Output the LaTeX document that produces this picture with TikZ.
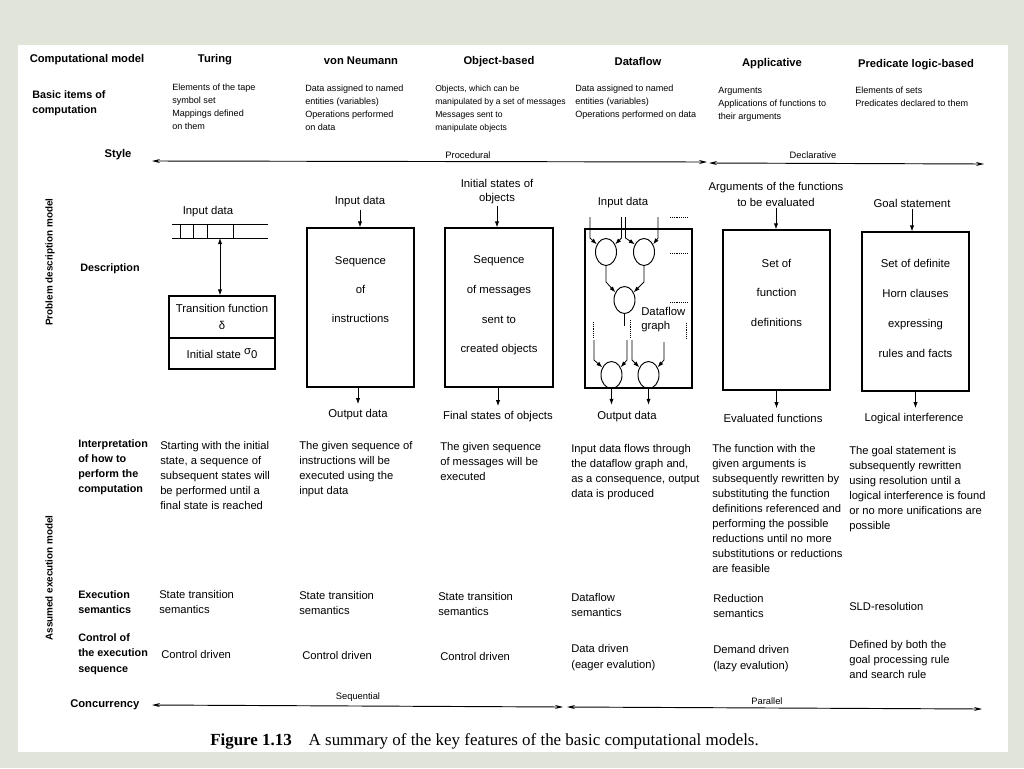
\documentclass[tikz,border=0pt]{standalone}
\usepackage{fontspec}
\setmainfont{Liberation Sans}
\newfontfamily\capfont{Liberation Serif}
\usetikzlibrary{shapes.geometric,arrows.meta,fit}
\newcommand\myfs[2]{\fontsize{#1}{#2}\selectfont}
\definecolor{bgc}{HTML}{E1E5D9}
\begin{document}
\begin{tikzpicture}[x=0.75pt,y=-0.75pt,
  hdr/.style={font=\bfseries\myfs{8.4}{10}, inner sep=0, anchor=base},
  lab/.style={font=\bfseries\myfs{8.1}{11.3}, anchor=north west, align=left, inner sep=0},
  side/.style={font=\bfseries\myfs{7.4}{9}, inner sep=0, rotate=90},
  basic/.style={font=\myfs{6.8}{9.75}, anchor=north west, align=left, inner sep=0},
  body/.style={font=\myfs{8.4}{11.3}, anchor=north west, align=left, inner sep=0},
  small/.style={font=\myfs{7}{8}, inner sep=0},
  dtxt/.style={font=\myfs{8.5}{10}, inner sep=0, align=center},
  box/.style={draw, line width=0.9pt, inner sep=0},
  arr/.style={-{Latex[length=4.5pt,width=3.2pt]}, line width=0.6pt},
  darr/.style={{Latex[length=4.5pt,width=3.2pt]}-{Latex[length=4.5pt,width=3.2pt]}, line width=0.6pt},
  sarr/.style={{Stealth[length=6pt,width=3pt]}-{Stealth[length=6pt,width=3pt]}, line width=0.7pt},
  blob/.style={draw, ellipse, line width=0.7pt, minimum width=15.75pt, minimum height=20.25pt, inner sep=0},
  dots/.style={dash pattern=on 0.7pt off 0.7pt, line width=0.5pt},
  ln/.style={line width=0.6pt}
]
\useasboundingbox (0,0) rectangle (1024,768);
\fill[bgc] (0,0) rectangle (1024,768);
\fill[white] (18,45) rectangle (1008,752);

% header row
\node[hdr] (hcm) at (87,62) {Computational model};
\node[hdr] (htu) at (215,62) {Turing};
\node[hdr] (hvn) at (361,64) {von Neumann};
\node[hdr] (hob) at (499,64) {Object-based};
\node[hdr] (hdf) at (638,65) {Dataflow};
\node[hdr] (hap) at (772,66) {Applicative};
\node[hdr] (hpl) at (916,67) {Predicate logic-based};

% basic items
\node[lab] (lbasic) at (32,90) {Basic items of\\computation};
\node[basic] (btu) at (172,83.5) {Elements of the tape\\symbol set\\Mappings defined\\on them};
\node[basic] (bvn) at (305,84.5) {Data assigned to named\\entities (variables)\\Operations performed\\on data};
\node[basic, font=\myfs{6.45}{9.75}] (bob) at (435,84.5) {Objects, which can be\\manipulated by a set of messages\\Messages sent to\\manipulate objects};
\node[basic] (bdf) at (575,85) {Data assigned to named\\entities (variables)\\Operations performed on data};
\node[basic] (bap) at (718,86.5) {Arguments\\Applications of functions to\\their arguments};
\node[basic] (bpl) at (855,86.5) {Elements of sets\\Predicates declared to them};

% style row
\node[hdr] (lstyle) at (118,157) {Style};
\coordinate (sL) at (152,161);
\coordinate (sM1) at (707,162);
\coordinate (sM2) at (709,163);
\coordinate (sR) at (984,164);
\draw[sarr] (sL) -- (sM1);
\draw[sarr] (sM2) -- (sR);
\node[small] (proc) at (468,155) {Procedural};
\node[small] (decl) at (813,155) {Declarative};

% side labels
\node[side] (pdm) at (50,262) {Problem description model};
\node[side] (aem) at (49,578) {Assumed execution model};

% description label
\node[lab, anchor=west] (ldesc) at (80,269) {Description};

% Turing
\node[dtxt] (tuin) at (208,212) {Input data};
\draw[ln] (172,224) -- (268,224);
\draw[ln] (172,238) -- (268,238);
\foreach \xx in {180,193,207,233} \draw[ln] (\xx,224) -- (\xx,238);
\coordinate (tape) at (220,238);
\node[box, fit={(169,296) (275,338)}] (tbox1) {};
\node[box, fit={(169,338) (275,369)}] (tbox2) {};
\node[dtxt, font=\myfs{8.5}{12.75}] (ttf) at (tbox1.center) {Transition function\\δ};
\node[dtxt] (tis) at (tbox2.center) {Initial state \raisebox{0.55ex}{σ}0};
\draw[darr] (tape) -- (tape |- tbox1.north);

% von Neumann
\node[dtxt] (vnin) at (360,202) {Input data};
\node[box, fit={(307,228) (414,387)}] (vnbox) {};
\node[dtxt, font=\myfs{8.5}{22}] (vntx) at (360.5,289.5) {Sequence\\of\\instructions};
\node[dtxt] (vnout) at (358,415) {Output data};
\draw[arr] (vnin.south) ++(0,2) -- (vnin.south |- vnbox.north);
\draw[arr, shorten >=4pt] (vnbox.south -| vnout.north) -- (vnout.north);

% Object-based
\node[dtxt, font=\myfs{8.5}{9.9}] (obin) at (497,191.5) {Initial states of\\objects};
\node[box, fit={(445,228) (553,387)}] (obbox) {};
\node[dtxt, font=\myfs{8.5}{22.2}] (obtx) at (499,305.5) {Sequence\\of messages\\sent to\\created objects};
\node[dtxt] (obout) at (498,417) {Final states of objects};
\draw[arr] (obin.south) ++(0,2) -- (obin.south |- obbox.north);
\draw[arr, shorten >=4pt] (obbox.south -| obout.north) -- (obout.north);

% Dataflow
\node[dtxt] (dfin) at (623,203) {Input data};
\node[box, fit={(585,229) (692,388)}] (dfbox) {};
\node[blob] (e1) at (606,252) {};
\node[blob] (e2) at (644,252) {};
\node[blob] (em) at (624.5,300) {};
\node[blob] (b1) at (611.5,375) {};
\node[blob] (b2) at (648.5,375) {};
\coordinate (i1) at (590,217);
\coordinate (i2) at (621.5,217);
\coordinate (i3) at (625.5,217);
\coordinate (i4) at (658,217);
\draw[arr] (i1) -- ++(0,21) -- (e1.140);
\draw[arr] (i2) -- ++(0,21) -- (e1.40);
\draw[arr] (i3) -- ++(0,21) -- (e2.140);
\draw[arr] (i4) -- ++(0,21) -- (e2.40);
\draw[arr] (e1.south) -- ++(0,16) -- (em.140);
\draw[arr] (e2.south) -- ++(0,16) -- (em.40);
\coordinate (stub) at (624.5,326);
\draw[ln] (em.south) -- (stub);
\coordinate (j1) at (594,340);
\coordinate (j2) at (627,340);
\coordinate (j3) at (632,340);
\coordinate (j4) at (664,342);
\draw[arr] (j1) -- ++(0,20) -- (b1.140);
\draw[arr] (j2) -- ++(0,20) -- (b1.40);
\draw[arr] (j3) -- ++(0,20) -- (b2.140);
\draw[arr] (j4) -- (664,360) -- (b2.40);
\draw[dots] (593,322) -- (593,337);
\draw[dots] (630,320) -- (630,338);
\draw[dots] (686,323) -- (686,338);
\draw[dots] (670,217) -- (687,217);
\draw[dots] (670,253) -- (687,253);
\draw[dots] (670,302) -- (687,302);
\node[dtxt, anchor=north west, align=left, font=\myfs{8.5}{10.5}] (dfg) at (641,307) {Dataflow\\graph};
\node[dtxt] (dfout) at (627,417) {Output data};
\draw[arr, shorten >=5pt] (b1.south) -- (b1.south |- dfout.north);
\draw[arr, shorten >=5pt] (b2.south) -- (b2.south |- dfout.north);

% Applicative
\node[dtxt, font=\myfs{8.5}{12}] (apin) at (776,194) {Arguments of the functions\\to be evaluated};
\node[box, fit={(723,230) (830,390)}] (apbox) {};
\node[dtxt, font=\myfs{8.5}{22.1}] (aptx) at (776.5,292.5) {Set of\\function\\definitions};
\node[dtxt] (apout) at (773,418) {Evaluated functions};
\draw[arr] (apin.south) ++(0,2) -- (apin.south |- apbox.north);
\draw[arr, shorten >=4pt] (apbox.south) -- (apbox.south |- apout.north);

% Predicate logic
\node[dtxt] (plin) at (912,203) {Goal statement};
\node[box, fit={(862,232) (969,391)}] (plbox) {};
\node[dtxt, font=\myfs{8.5}{22.5}] (pltx) at (915.5,308) {Set of definite\\Horn clauses\\expressing\\rules and facts};
\node[dtxt] (plout) at (914,419) {Logical interference};
\draw[arr] (plin.south) ++(0,2) -- (plin.south |- plbox.north);
\draw[arr, shorten >=4pt] (plbox.south) -- (plbox.south |- plout.north);

% interpretation row
\node[lab] (linterp) at (78,439) {Interpretation\\of how to\\perform the\\computation};
\node[body] (itu) at (160,441) {Starting with the initial\\state, a sequence of\\subsequent states will\\be performed until a\\final state is reached};
\node[body] (ivn) at (299,441) {The given sequence of\\instructions will be\\executed using the\\input data};
\node[body] (iob) at (440,442) {The given sequence\\of messages will be\\executed};
\node[body] (idf) at (571,444) {Input data flows through\\the dataflow graph and,\\as a consequence, output\\data is produced};
\node[body] (iap) at (712,444) {The function with the\\given arguments is\\subsequently rewritten by\\substituting the function\\definitions referenced and\\performing the possible\\reductions until no more\\substitutions or reductions\\are feasible};
\node[body] (ipl) at (849,446) {The goal statement is\\subsequently rewritten\\using resolution until a\\logical interference is found\\or no more unifications are\\possible};

% execution semantics
\node[lab] (lexec) at (78,590) {Execution\\semantics};
\node[body] (etu) at (159,590) {State transition\\semantics};
\node[body] (evn) at (299,591) {State transition\\semantics};
\node[body] (eob) at (438,592) {State transition\\semantics};
\node[body] (edf) at (571,593) {Dataflow\\semantics};
\node[body] (eap) at (713,594) {Reduction\\semantics};
\node[body] (epl) at (849,602) {SLD-resolution};

% control
\node[lab, font=\bfseries\myfs{8.1}{11.6}] (lctrl) at (78,633) {Control of\\the execution\\sequence};
\node[body] (ctu) at (161,650) {Control driven};
\node[body] (cvn) at (302,651) {Control driven};
\node[body] (cob) at (440,652) {Control driven};
\node[body, font=\myfs{8.4}{12}] (cdf) at (571,644) {Data driven\\(eager evalution)};
\node[body, font=\myfs{8.4}{12}] (cap) at (713,645) {Demand driven\\(lazy evalution)};
\node[body] (cpl) at (849,640) {Defined by both the\\goal processing rule\\and search rule};

% concurrency
\node[hdr, anchor=base west] (lconc) at (70,707) {Concurrency};
\coordinate (cL) at (152,705);
\coordinate (cM1) at (563,707);
\coordinate (cM2) at (567,707);
\coordinate (cR) at (982,709);
\draw[sarr] (cL) -- (cM1);
\draw[sarr] (cM2) -- (cR);
\node[small] (seq) at (358,697) {Sequential};
\node[small] (par) at (767,701) {Parallel};

% caption
\node[anchor=west, inner sep=0, font=\capfont\myfs{12.7}{14}] (cap1) at (210,741) {\textbf{Figure 1.13}\quad A summary of the key features of the basic computational models.};
\end{tikzpicture}
\end{document}
